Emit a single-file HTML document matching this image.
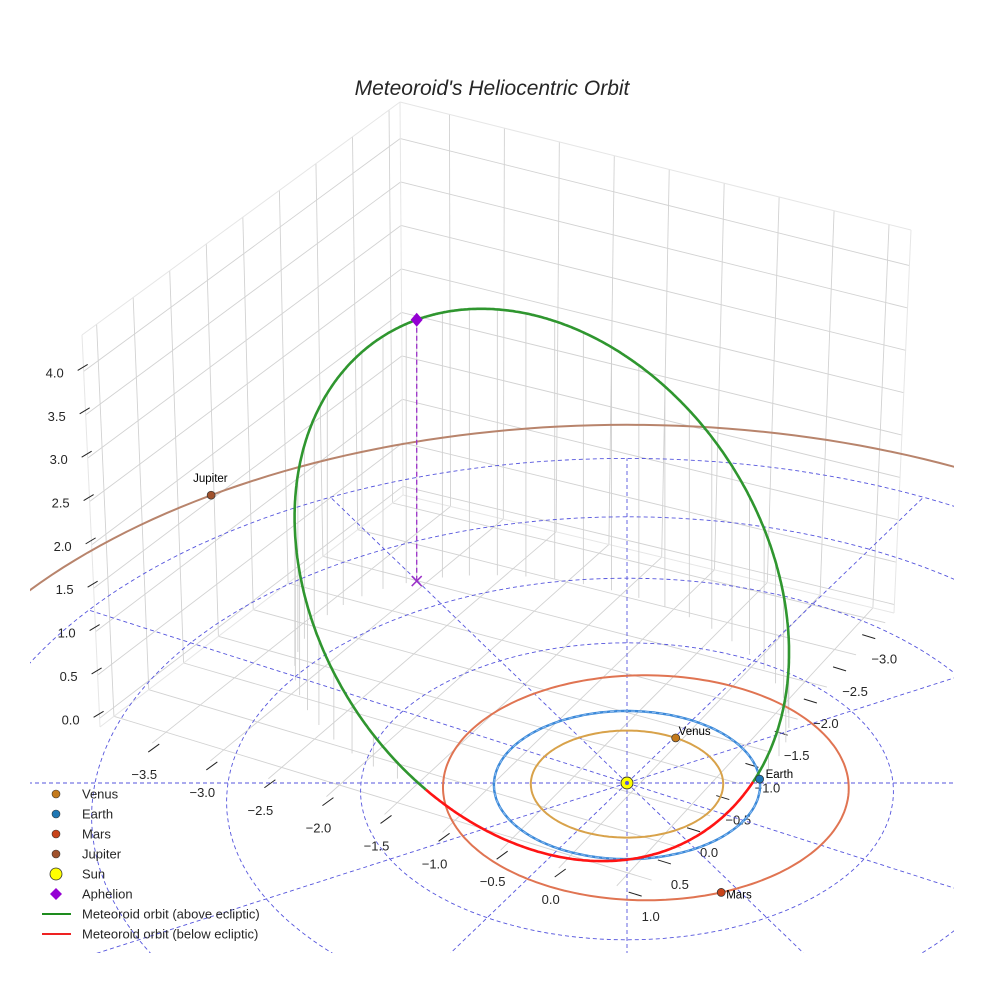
<!DOCTYPE html>
<html><head><meta charset="utf-8"><style>
html,body{margin:0;padding:0;background:#fff;overflow:hidden;}
svg{display:block;font-family:"Liberation Sans",sans-serif;}
</style></head><body>
<svg id="chart" width="984" height="984" viewBox="0 0 984 984" xmlns="http://www.w3.org/2000/svg">
<defs><clipPath id="axclip"><rect x="30" y="0" width="924" height="953"/></clipPath></defs>
<text x="492" y="95" text-anchor="middle" font-size="21" font-style="italic" fill="#262626">Meteoroid's Heliocentric Orbit</text>
<g id="box"></g>
<g id="ticks"></g>
<g id="stems"></g>
<g id="ecl" clip-path="url(#axclip)"></g>
<g id="orbits"></g>
<g id="met"></g>
<g id="marks"></g>
<g id="legend"></g>
</svg>
<script>
// ---- data ----
const planetNames = ['Venus','Earth','Mars','Jupiter'];
const planetA = [0.723, 1.0, 1.524, 5.6];
const planetE = [0.0, 0.0, 0.093, 0.0];
const planetPeri = [0, 0, 150, 0];
const planetLon = [-89, -33, 34.4, -158.8];
const refRadii = [1, 2, 3, 4, 5];
const radialAngles = [0,30,60,90,120,150,180,210,240,270,300,330];
const orbitCenter = [-1.233, -0.769, 1.239];
const orbitAxisU = [-1.727, -0.934, 1.59];
const orbitAxisV = [1.13, -1.31, 0.45];
const xTicks = [-3.5,-3.0,-2.5,-2.0,-1.5,-1.0,-0.5,0.0];
const xGrid = [-3.5,-3.0,-2.5,-2.0,-1.5,-1.0,-0.5,0.0,0.5];
const yTicks = [-3.0,-2.5,-2.0,-1.5,-1.0,-0.5,0.0,0.5,1.0];
const zTicks = [0.0,0.5,1.0,1.5,2.0,2.5,3.0,3.5,4.0];
const xRange = [-3.95, 0.7], yRange = [-3.15, 1.2], zRange = [-0.1, 4.42];

// ---- projection ----
const AZ = 30*Math.PI/180, K = 0.028, CX = 627, CY = 783, SX = 133, SY = 74, SZ = 100;
function proj(x,y,z){
  const p = x*Math.cos(AZ) - y*Math.sin(AZ);
  const q = x*Math.sin(AZ) + y*Math.cos(AZ);
  const w = 1 - K*q;
  return [CX + SX*p/w, CY + (SY*q - SZ*z)/w];
}
const NS='http://www.w3.org/2000/svg';
function mk(parent, tag, attrs){
  const e=document.createElementNS(NS,tag);
  for(const k in attrs) e.setAttribute(k,attrs[k]);
  parent.appendChild(e); return e;
}
function pts(a){return a.map(p=>p[0].toFixed(1)+','+p[1].toFixed(1)).join(' ');}
function inClip(p){return p[0]>=30&&p[0]<=954&&p[1]>=0&&p[1]<=953;}
// split a point list into runs inside the clip rect (one point of overlap kept)
function clipRuns(a){
  const runs=[];let cur=[];
  for(let i=0;i<a.length;i++){
    if(inClip(a[i])){ if(cur.length===0&&i>0) cur.push(a[i-1]); cur.push(a[i]); }
    else if(cur.length){ cur.push(a[i]); runs.push(cur); cur=[]; }
  }
  if(cur.length) runs.push(cur);
  return runs.map(r=>r.map(p=>[Math.max(20,Math.min(964,p[0])),Math.max(0,Math.min(962,p[1]))]));
}

// ---- box (frame geometry) ----
const F00=[403,495],F10=[894,613],F11=[640,893],F01=[100,727],T00=[400,102],T10=[911,230],T01=[82,335];
function bil(P00,P10,P01,P11,u,v){
  return [P00[0]*(1-u)*(1-v)+P10[0]*u*(1-v)+P01[0]*(1-u)*v+P11[0]*u*v,
          P00[1]*(1-u)*(1-v)+P10[1]*u*(1-v)+P01[1]*(1-u)*v+P11[1]*u*v];
}
const box=document.getElementById('box');
function fx(v){return (v-xRange[0])/(xRange[1]-xRange[0]);}
function fy(v){return (v-yRange[0])/(yRange[1]-yRange[0]);}
function fz(v){return (v-zRange[0])/(zRange[1]-zRange[0]);}
function gl(a,b,name){
  const l=mk(box,'line',{x1:a[0],y1:a[1],x2:b[0],y2:b[1],stroke:'#d2d2d2','stroke-width':0.9});
  
  
}
xGrid.forEach(v=>{gl(bil(F00,F10,T00,T10,fx(v),0),bil(F00,F10,T00,T10,fx(v),1),'back-grid-x');});
zTicks.forEach(v=>{gl(bil(F00,F10,T00,T10,0,fz(v)),bil(F00,F10,T00,T10,1,fz(v)),'back-grid-z');});
yTicks.forEach(v=>{gl(bil(F00,F01,T00,T01,fy(v),0),bil(F00,F01,T00,T01,fy(v),1),'left-grid-y');});
zTicks.forEach(v=>{gl(bil(F00,F01,T00,T01,0,fz(v)),bil(F00,F01,T00,T01,1,fz(v)),'left-grid-z');});
xGrid.forEach(v=>{gl(bil(F00,F10,F01,F11,fx(v),0),bil(F00,F10,F01,F11,fx(v),1),'floor-grid-x');});
yTicks.forEach(v=>{gl(bil(F00,F10,F01,F11,0,fy(v)),bil(F00,F10,F01,F11,1,fy(v)),'floor-grid-y');});
[[F01,F00],[F00,F10],[T01,T00],[T00,T10],[F01,T01],[F10,T10],[F00,T00]].forEach(e=>{
  const l=mk(box,'line',{x1:e[0][0],y1:e[0][1],x2:e[1][0],y2:e[1][1],stroke:'#e6e6e6','stroke-width':1});
  
  
});

// ---- ticks ----
const tk=document.getElementById('ticks');
function fmt(v){return (v<0?'\u2212':'')+Math.abs(v).toFixed(1);}
xTicks.forEach(v=>{
  const P=bil(F01,F11,F01,F11,fx(v),0);
  const lx=P[0]-8, ly=P[1]+32;
  const l=mk(tk,'line',{x1:lx+4,y1:ly-23,x2:lx+15,y2:ly-31,stroke:'#222','stroke-width':1});
  
  
  const t=mk(tk,'text',{x:lx,y:ly+4,'text-anchor':'middle','font-size':13,fill:'#262626'});
  t.textContent=fmt(v);
  
  
});
yTicks.forEach(v=>{
  const P=bil(F10,F11,F10,F11,fy(v),0);
  const lx=P[0]-1, ly=P[1]+37;
  const l=mk(tk,'line',{x1:lx-22,y1:ly-25,x2:lx-9,y2:ly-21,stroke:'#222','stroke-width':1});
  
  
  const t=mk(tk,'text',{x:lx,y:ly+4,'text-anchor':'middle','font-size':13,fill:'#262626'});
  t.textContent=fmt(v);
  
  
});
zTicks.forEach(v=>{
  const P=bil(F01,T01,F01,T01,fz(v),0);
  const lx=P[0]-29, ly=P[1]+2;
  const l=mk(tk,'line',{x1:lx+23,y1:ly-3,x2:lx+33,y2:ly-9,stroke:'#222','stroke-width':1});
  
  
  const t=mk(tk,'text',{x:lx,y:ly+4,'text-anchor':'middle','font-size':13,fill:'#262626'});
  t.textContent=fmt(v);
  
  
});

// ---- ecliptic reference ----
const ecl=document.getElementById('ecl');
refRadii.forEach(r=>{
  const a=[];for(let i=0;i<=240;i++){const t=i/240*2*Math.PI;a.push(proj(r*Math.cos(t),r*Math.sin(t),0));}
  clipRuns(a).forEach(run=>{
    const e=mk(ecl,'polyline',{points:pts(run),fill:'none',stroke:'#5555dd','stroke-width':0.9,'stroke-dasharray':'4,3'});
    
    
  });
});
const rmax=refRadii[refRadii.length-1];
radialAngles.forEach(d=>{
  const t=d*Math.PI/180;const a=[];
  for(let i=0;i<=60;i++){const r=rmax*i/60;a.push(proj(r*Math.cos(t),r*Math.sin(t),0));}
  clipRuns(a).forEach(run=>{
    const e=mk(ecl,'polyline',{points:pts(run),fill:'none',stroke:'#5555dd','stroke-width':0.9,'stroke-dasharray':'4,3'});
    
    
  });
});

// ---- planet orbits ----
const orbitColors=['#d8a24a','#3a88d8','#e07452','#b8846c'];
const markerColors=['#c47a1c','#1f77b4','#c8441a','#a0522d'];
const og=document.getElementById('orbits');
function kr(i,lonDeg){const a=planetA[i],e=planetE[i];return a*(1-e*e)/(1+e*Math.cos((lonDeg-planetPeri[i])*Math.PI/180));}
planetNames.forEach((n,i)=>{
  const a=[];for(let k=0;k<=240;k++){const d=k/240*360;const r=kr(i,d);const t=d*Math.PI/180;a.push(proj(r*Math.cos(t),r*Math.sin(t),0));}
  const runs = i===3 ? clipRuns(a) : [a];
  runs.forEach(run=>{
    const e=mk(i===3?ecl:og,'polyline',{points:pts(run),fill:'none',stroke:orbitColors[i],'stroke-width':i===1?2.4:2});
    
    
  });
});
(function(){const a=[];for(let k=0;k<=180;k++){const t=k/180*2*Math.PI;a.push(proj(Math.cos(t),Math.sin(t),0));}
const e=mk(og,'polyline',{points:pts(a),fill:'none',stroke:'#8cbcf0','stroke-width':1,'stroke-dasharray':'4,3'});

})();

// ---- meteoroid orbit ----
function orbitPt(t){return [0,1,2].map(j=>orbitCenter[j]+orbitAxisU[j]*Math.cos(t)+orbitAxisV[j]*Math.sin(t));}
const met=document.getElementById('met'), st=document.getElementById('stems');
let seg=[],segUp=null;
function flush(){
  if(seg.length>1){
    const e=mk(met,'polyline',{points:pts(seg),fill:'none',stroke:segUp?'#2f962f':'#ff1414','stroke-width':2.6,'stroke-linejoin':'round'});
    
    
  }
}
for(let k=0;k<=720;k++){
  const t=k/720*2*Math.PI;const P=orbitPt(t);const up=P[2]>=0;const s=proj(P[0],P[1],P[2]);
  if(segUp===null) segUp=up;
  if(up!==segUp){seg.push(s);flush();seg=[s];segUp=up;} else seg.push(s);
}
flush();
for(let k=0;k<360;k+=7){
  const t=k*Math.PI/180;const P=orbitPt(t);if(P[2]<=0.05) continue;
  const a=proj(P[0],P[1],P[2]),b=proj(P[0],P[1],0);
  const l=mk(st,'line',{x1:a[0],y1:a[1],x2:b[0],y2:b[1],stroke:'#d0d0d0','stroke-width':0.9});
  
  
}

// ---- markers ----
const mg=document.getElementById('marks');
const ap=orbitPt(0), apS=proj(ap[0],ap[1],ap[2]), apG=proj(ap[0],ap[1],0);
(function(){
  const l=mk(mg,'line',{x1:apS[0],y1:apS[1],x2:apG[0],y2:apG[1],stroke:'#9b30c8','stroke-width':1.3,'stroke-dasharray':'5,3'});
  
  
  const x=mk(mg,'path',{d:`M${apG[0]-5},${apG[1]-5}L${apG[0]+5},${apG[1]+5}M${apG[0]-5},${apG[1]+5}L${apG[0]+5},${apG[1]-5}`,stroke:'#9b30c8','stroke-width':1.5});
  
  
  const d=mk(mg,'path',{d:`M${apS[0]},${apS[1]-7}L${apS[0]+6},${apS[1]}L${apS[0]},${apS[1]+7}L${apS[0]-6},${apS[1]}Z`,fill:'#9400d3'});
  
  
})();
const labelOff=[[3,-3],[6,-1],[5,6],[-18,-13]];
planetNames.forEach((n,i)=>{
  const r=kr(i,planetLon[i]);const t=planetLon[i]*Math.PI/180;const s=proj(r*Math.cos(t),r*Math.sin(t),0);
  const c=mk(mg,'circle',{cx:s[0],cy:s[1],r:4,fill:markerColors[i],stroke:'#333','stroke-width':0.7});
  
  
  const tx=mk(mg,'text',{x:s[0]+labelOff[i][0],y:s[1]+labelOff[i][1],'font-size':11.5,fill:'#000'});
  tx.textContent=n;
  
  
});
(function(){const s=proj(0,0,0);
const c=mk(mg,'circle',{cx:s[0],cy:s[1],r:6,fill:'#ffff00',stroke:'#333','stroke-width':0.9});


const d=mk(mg,'circle',{cx:s[0],cy:s[1],r:2,fill:'#5555dd'});

})();

// ---- legend ----
const lg=document.getElementById('legend');
const legendLabels=['Venus','Earth','Mars','Jupiter','Sun','Aphelion','Meteoroid orbit (above ecliptic)','Meteoroid orbit (below ecliptic)'];
const legendKinds=['dot','dot','dot','dot','sun','diamond','line','line'];
const legendColors=['#c47a1c','#1f77b4','#c8441a','#a0522d','#ffff00','#9400d3','#1e8c1e','#ee2222'];
legendLabels.forEach((lab,i)=>{
  const y=794+i*20;const g=mk(lg,'g',{});
  
  
  if(legendKinds[i]==='dot') mk(g,'circle',{cx:56,cy:y,r:4,fill:legendColors[i],stroke:'#333','stroke-width':0.6});
  else if(legendKinds[i]==='sun') mk(g,'circle',{cx:56,cy:y,r:6,fill:legendColors[i],stroke:'#333','stroke-width':0.8});
  else if(legendKinds[i]==='diamond') mk(g,'path',{d:`M56,${y-6}L62,${y}L56,${y+6}L50,${y}Z`,fill:legendColors[i]});
  else mk(g,'line',{x1:42,y1:y,x2:71,y2:y,stroke:legendColors[i],'stroke-width':2});
  const t=mk(g,'text',{x:82,y:y+4.5,'font-size':13,fill:'#262626'});t.textContent=lab;
});
</script>
</body></html>
